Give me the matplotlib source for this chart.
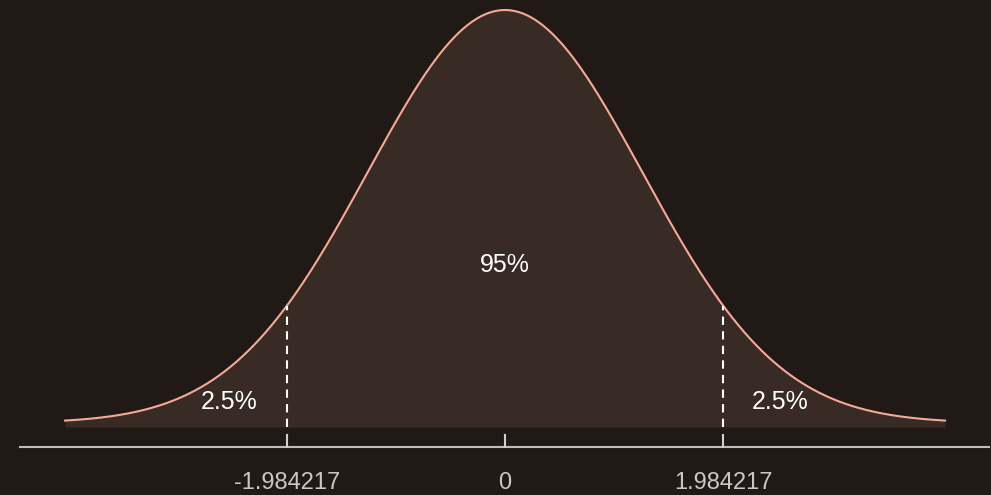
import matplotlib.pyplot as plt
import numpy as np

# 曲线参数
mean = 0.0
sd = 1.25
x_min, x_max = -4.0, 4.0
crit = 1.984217
tick_vals = [-crit, 0, crit]
tick_labels = ["-1.984217", "0", "1.984217"]
area_labels = ["2.5%", "95%", "2.5%"]
area_x = [-2.51, 0.0, 2.5]
area_y = [0.016, 0.122, 0.016]

bg = "#211915"
fill_col = "#382a24"
line_col = "#f7a994"

plt.rcParams['font.family'] = ['Liberation Sans', 'DejaVu Sans']

x = np.linspace(x_min, x_max, 600)
y = np.exp(-0.5 * ((x - mean) / sd) ** 2) / (sd * np.sqrt(2 * np.pi))

fig = plt.figure(figsize=(9.91, 4.95), dpi=100, facecolor=bg)
ax = fig.add_axes([0, 0, 1, 1])
ax.set_facecolor(bg)
ax.set_xlim(-4.591, 4.418)
ax.set_ylim(-0.0556, 0.3269)
ax.axis("off")

# 填充与曲线
ax.fill_between(x, y, -0.0031, color=fill_col, lw=0)
ax.plot(x, y, color=line_col, lw=1.5)

# 坐标轴
ax.plot([-4.41, 4.40], [-0.0185, -0.0185], color="#bdbdbd", lw=1.5)
for t, lab in zip(tick_vals, tick_labels):
    ax.plot([t, t], [-0.0093, -0.0185], color="#d0d0d0", lw=1.5)
    ax.text(t, -0.0465, lab, color="#c8c8c8", fontsize=17,
            ha="center", va="center")

# 临界值虚线
for c in [-crit, crit]:
    yc = np.exp(-0.5 * ((c - mean) / sd) ** 2) / (sd * np.sqrt(2 * np.pi))
    ax.plot([c, c], [-0.0031, yc], color="white", lw=1.5,
            dashes=(4, 3))

for xx, yy, lab in zip(area_x, area_y, area_labels):
    ax.text(xx, yy, lab, color="white", fontsize=18, ha="center", va="center")

fig.savefig("out.png", dpi=100, facecolor=bg)
